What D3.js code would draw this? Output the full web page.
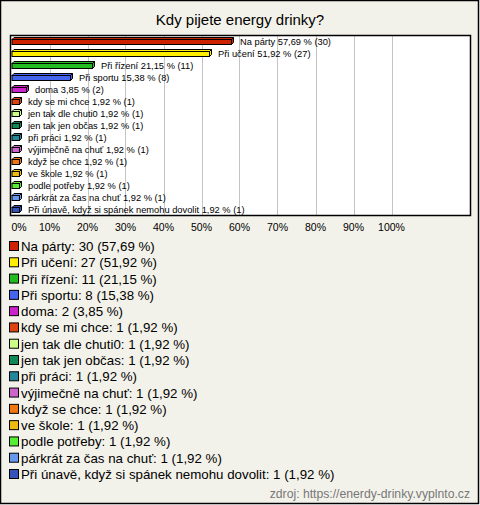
<!DOCTYPE html>
<html><head><meta charset="utf-8">
<script src="https://cdn.jsdelivr.net/npm/d3@7"></script>
<style>body{margin:0;background:#fff}svg{display:block}</style>
</head><body>
<script>
const categories = ["Na párty","Při učení","Při řízení","Při sportu","doma","kdy se mi chce","jen tak dle chuti0","jen tak jen občas","při práci","výjimečně na chuť","když se chce","ve škole","podle potřeby","párkrát za čas na chuť","Při únavě, když si spánek nemohu dovolit"];
const counts = [30,27,11,8,2,1,1,1,1,1,1,1,1,1,1];
const percents = [57.69,51.92,21.15,15.38,3.85,1.92,1.92,1.92,1.92,1.92,1.92,1.92,1.92,1.92,1.92];
const colors = ["#cc2200","#ffee00","#22bb22","#4466ee","#cc22cc","#dd4411","#ccff88","#118855","#228899","#cc66cc","#ee7711","#eebb11","#55ee33","#6699ee","#3355bb"];
const ticks = [0,10,20,30,40,50,60,70,80,90,100];
const title = "Kdy pijete energy drinky?";
const source = "zdroj: https://enerdy-drinky.vyplnto.cz";

const W = 480, H = 505;
const fmt = v => v.toFixed(2).replace(".", ",");
const svg = d3.select("body").append("svg").attr("width", W).attr("height", H);
svg.append("rect").attr("x",0.5).attr("y",0.5).attr("width",W-2).attr("height",H-2)
  .attr("fill","#f3f2ea").attr("stroke","#000").attr("stroke-width",1.5);
svg.append("text").attr("x",240).attr("y",25).attr("text-anchor","middle")
  .attr("font-family","Liberation Sans, Arial, sans-serif").attr("font-size",15).attr("fill","#000").text(title);

const plot = {l:10.5, t:35.5, r:470.5, b:215.5};
svg.append("rect").attr("x",plot.l).attr("y",plot.t).attr("width",plot.r-plot.l).attr("height",plot.b-plot.t)
  .attr("fill","#fff");
const x = d3.scaleLinear().domain([0,100]).range([11.5,391.5]);
const y = d3.scaleBand().domain(categories).range([34.5,214.5]);

svg.append("g").selectAll("line").data(ticks.slice(1)).join("line")
  .attr("x1",d=>Math.round(x(d))+0.5).attr("x2",d=>Math.round(x(d))+0.5)
  .attr("y1",plot.t).attr("y2",plot.b).attr("stroke","#c4c4c4").attr("stroke-width",1);

svg.append("rect").attr("x",plot.l).attr("y",plot.t).attr("width",plot.r-plot.l).attr("height",plot.b-plot.t)
  .attr("fill","none").attr("stroke","#000").attr("stroke-width",1.5);

const data = categories.map((c,i)=>({c, n:counts[i], p:percents[i], col:colors[i]}));
const dx = 2, dy = 2;
const bars = svg.append("g").selectAll("g").data(data).join("g");
bars.each(function(d){
  const g = d3.select(this);
  const x0 = x(0)+0.5, x1 = Math.round(x(d.p))+0.5;
  const cy = Math.round(y(d.c)+y.bandwidth()/2);
  const top = cy-2+0.5, bot = cy+3+0.5;
  g.append("path").attr("d",`M${x0},${top}L${x0+dx},${top-dy}L${x1+dx},${top-dy}L${x1},${top}Z`)
    .attr("fill",d.col).attr("stroke","#000").attr("stroke-width",1);
  g.append("path").attr("d",`M${x1},${top}L${x1+dx},${top-dy}L${x1+dx},${bot-dy}L${x1},${bot}Z`)
    .attr("fill",d.col).attr("stroke","#000").attr("stroke-width",1);
  g.append("rect").attr("x",x0).attr("y",top).attr("width",x1-x0).attr("height",bot-top)
    .attr("fill",d.col).attr("stroke","#000").attr("stroke-width",1);
  g.append("text").attr("x",x1+dx+6.5).attr("y",cy+4)
    .attr("font-family","Liberation Sans, Arial, sans-serif").attr("font-size",9.3).attr("fill","#000")
    .text(`${d.c} ${fmt(d.p)} % (${d.n})`);
});

svg.append("g").selectAll("text").data(ticks).join("text")
  .attr("x",d=>x(d)).attr("y",231)
  .attr("text-anchor",d=>d===0?"start":"middle")
  .attr("font-family","Liberation Sans, Arial, sans-serif").attr("font-size",10.5).attr("fill","#000")
  .text(d=>d+"%");

const ly = d3.scalePoint().domain(categories).range([246,474]);
const leg = svg.append("g").selectAll("g").data(data).join("g")
  .attr("transform",d=>`translate(0,${ly(d.c)})`);
leg.append("rect").attr("x",9.5).attr("y",-4.5).attr("width",9).attr("height",9)
  .attr("fill",d=>d.col).attr("stroke","#000").attr("stroke-width",1);
leg.append("text").attr("x",21).attr("y",5)
  .attr("font-family","Liberation Sans, Arial, sans-serif").attr("font-size",13.3).attr("fill","#000")
  .text(d=>`${d.c}: ${d.n} (${fmt(d.p)} %)`);

svg.append("text").attr("x",470).attr("y",498).attr("text-anchor","end")
  .attr("font-family","Liberation Sans, Arial, sans-serif").attr("font-size",12.2).attr("fill","#777").text(source);
</script>
</body></html>
